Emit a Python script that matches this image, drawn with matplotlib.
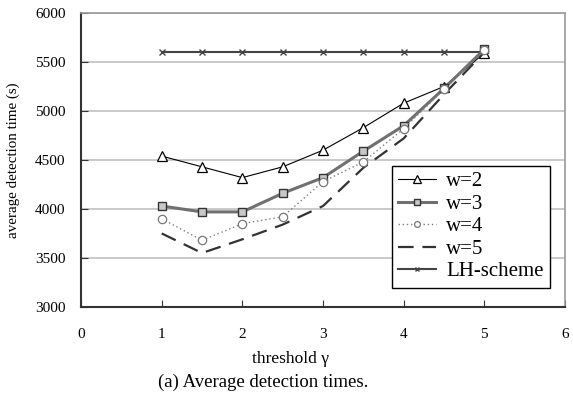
import matplotlib
matplotlib.use("Agg")
import matplotlib.pyplot as plt

plt.rcParams['font.family'] = ['Liberation Serif', 'DejaVu Serif']
plt.rcParams['mathtext.fontset'] = 'stix'

gamma = [1, 1.5, 2, 2.5, 3, 3.5, 4, 4.5, 5]
w2 = [4540, 4430, 4320, 4430, 4600, 4830, 5080, 5250, 5590]
w3 = [4030, 3970, 3970, 4160, 4320, 4590, 4850, 5230, 5630]
w4 = [3900, 3680, 3850, 3920, 4280, 4480, 4820, 5220, 5620]
w5 = [3750, 3550, 3690, 3840, 4030, 4420, 4720, 5170, 5600]
lh = [5600, 5600, 5600, 5600, 5600, 5600, 5600, 5600, 5600]

xticks = [0, 1, 2, 3, 4, 5, 6]
yticks = [3000, 3500, 4000, 4500, 5000, 5500, 6000]

fig = plt.figure(figsize=(5.73, 3.96), dpi=100)
ax = fig.add_axes([0.1414, 0.225, 0.8446, 0.742])

ax.plot(gamma, lh, color='#444444', lw=1.5, marker='x', ms=5, mew=1, label='LH-scheme', zorder=3)
ax.plot(gamma, w2, color='black', lw=0.8, marker='^', ms=7.5, mfc='white', mec='black', mew=0.9, label='w=2', zorder=4)
ax.plot(gamma, w3, color='#707070', lw=2.2, marker='s', ms=6, mfc='#c8c8c8', mec='#333333', mew=1, label='w=3', zorder=5)
ax.plot(gamma, w4, color='#808080', lw=1, ls=(0, (1, 2)), marker='o', ms=6, mfc='white', mec='#777777', mew=0.9, label='w=4', zorder=6)
ax.plot(gamma, w5, color='#333333', lw=1.6, ls=(0, (7, 4)), label='w=5', zorder=4)

ax.set_xlim(0, 6)
ax.set_ylim(3000, 6000)
ax.set_xticks(xticks)
ax.set_yticks(yticks)
ax.yaxis.grid(True, color='#c0c0c0', lw=1.2)
ax.set_axisbelow(True)
ax.xaxis.set_tick_params(direction='in', length=5, labelsize=11, color='#333333', labelcolor='black', pad=15)
ax.yaxis.set_tick_params(direction='in', length=5, labelsize=11, color='#333333', labelcolor='black', pad=11)
for s in ['left', 'bottom']:
    ax.spines[s].set_color('#333333')
    ax.spines[s].set_linewidth(1.5)
for s in ['top', 'right']:
    ax.spines[s].set_color('#999999')
    ax.spines[s].set_linewidth(1.2)

ax.set_ylabel('average detection time (s)', fontsize=10.8)
ax.yaxis.set_label_coords(-0.127, 0.5)
ax.set_xlabel('threshold γ', fontsize=12.5)
ax.xaxis.set_label_coords(0.432, -0.177)
ax.xaxis.label.set_verticalalignment('center')
fig.text(0.459, 0.034, '(a) Average detection times.', ha='center', va='center', fontsize=13.5)

handles, labels = ax.get_legend_handles_labels()
order = [1, 2, 3, 4, 0]
leg = ax.legend([handles[i] for i in order], [labels[i] for i in order],
                loc='lower right', bbox_to_anchor=(0.99, 0.03), fontsize=15,
                frameon=True, fancybox=False, edgecolor='black', framealpha=1,
                handlelength=1.8, handletextpad=0.5, borderpad=0.3, labelspacing=0.14,
                markerscale=0.7)
leg.get_frame().set_linewidth(1.0)

fig.savefig('out.png', dpi=100)
